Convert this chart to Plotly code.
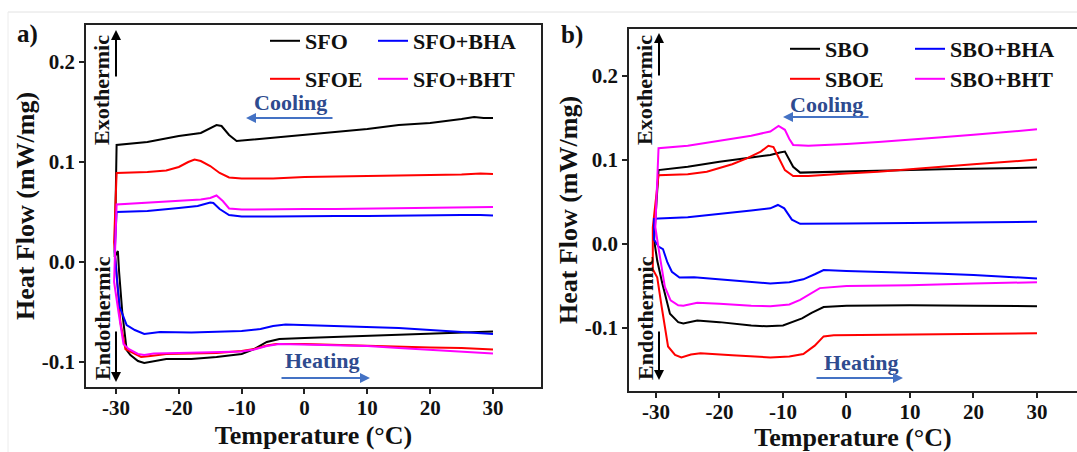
import plotly.graph_objects as go

W, H = 1077, 452

# ---------------- data ----------------
# Panel a) sunflower oil samples
sfo_cool_x = [-29.9, -25, -20, -16.5, -15, -14, -13.2, -12, -10.8, -8, 0, 5, 10, 15, 20, 25, 27, 28.5, 30]
sfo_cool_y = [0.117, 0.120, 0.126, 0.129, 0.134, 0.137, 0.136, 0.127, 0.121, 0.122, 0.127, 0.130, 0.133, 0.137, 0.139, 0.143, 0.145, 0.144, 0.144]
sfo_heat_x = [-30.2, -29.7, -29.5, -29.0, -28.3, -27.7, -26.5, -25.5, -24, -22, -18, -14, -10, -8, -6, -4, 0, 5, 10, 15, 20, 25, 30]
sfo_heat_y = [0.005, 0.011, -0.010, -0.050, -0.088, -0.093, -0.099, -0.101, -0.099, -0.097, -0.097, -0.095, -0.092, -0.087, -0.080, -0.077, -0.076, -0.075, -0.074, -0.073, -0.072, -0.071, -0.0695]

sfoe_cool_x = [-29.9, -25, -22, -20, -18.5, -17.5, -16.5, -15, -13.5, -12, -10, -5, 0, 5, 10, 15, 20, 25, 28, 30]
sfoe_cool_y = [0.089, 0.090, 0.0915, 0.095, 0.100, 0.1025, 0.101, 0.096, 0.089, 0.0845, 0.0835, 0.0835, 0.085, 0.0855, 0.0865, 0.0865, 0.087, 0.0875, 0.0885, 0.088]
sfoe_heat_x = [-30.3, -29.8, -29.3, -28.5, -27.5, -26, -24.5, -22, -18, -14, -10, -8, -6, -4.5, 0, 5, 10, 15, 20, 25, 30]
sfoe_heat_y = [0.020, -0.020, -0.060, -0.087, -0.090, -0.095, -0.094, -0.092, -0.0915, -0.091, -0.089, -0.087, -0.0835, -0.082, -0.082, -0.083, -0.084, -0.085, -0.0855, -0.086, -0.0875]

sfobha_cool_x = [-29.9, -25, -20, -17, -15, -14.5, -13.5, -12, -10, -5, 0, 5, 10, 15, 20, 25, 28, 30]
sfobha_cool_y = [0.050, 0.051, 0.054, 0.056, 0.0595, 0.059, 0.053, 0.047, 0.0455, 0.0455, 0.0455, 0.046, 0.046, 0.0465, 0.0465, 0.047, 0.047, 0.0465]
sfobha_heat_x = [-30.2, -29.8, -29.4, -28.3, -27, -25.5, -23, -18, -14, -10, -7, -5, -3, 0, 5, 10, 15, 20, 25, 30]
sfobha_heat_y = [0.010, -0.020, -0.045, -0.063, -0.068, -0.072, -0.070, -0.0705, -0.070, -0.069, -0.067, -0.064, -0.0625, -0.063, -0.064, -0.065, -0.066, -0.068, -0.070, -0.072]

sfobht_cool_x = [-29.9, -25, -20, -16.5, -15, -14, -13, -12, -10, -5, 0, 5, 10, 15, 20, 25, 30]
sfobht_cool_y = [0.0575, 0.059, 0.061, 0.0625, 0.064, 0.0665, 0.061, 0.0535, 0.0525, 0.0525, 0.053, 0.053, 0.0535, 0.054, 0.054, 0.0545, 0.055]
sfobht_heat_x = [-30.2, -30.3, -29.6, -28.8, -28.0, -26.5, -25.5, -24, -20, -15, -10, -8, -6, -4, 0, 5, 10, 15, 20, 25, 30]
sfobht_heat_y = [0.000, -0.020, -0.050, -0.082, -0.087, -0.092, -0.093, -0.0915, -0.091, -0.0905, -0.0895, -0.0875, -0.084, -0.082, -0.0825, -0.083, -0.084, -0.086, -0.088, -0.0895, -0.0915]

# Panel b) soybean oil samples
sbo_cool_x = [-29.6, -25, -20, -15, -12, -10.5, -9.7, -9, -8.4, -7.3, -5, 0, 5, 10, 15, 20, 25, 30]
sbo_cool_y = [0.088, 0.092, 0.098, 0.103, 0.106, 0.109, 0.110, 0.100, 0.092, 0.085, 0.085, 0.086, 0.087, 0.088, 0.089, 0.090, 0.0905, 0.091]
sbo_heat_x = [-30.3, -29.8, -29.0, -28.3, -27.8, -26.5, -25.7, -23.5, -20, -15, -12.6, -10, -7, -5.5, -3.6, 0, 10, 20, 30]
sbo_heat_y = [0.005, -0.020, -0.047, -0.070, -0.083, -0.093, -0.0945, -0.091, -0.093, -0.097, -0.098, -0.097, -0.0885, -0.082, -0.075, -0.0735, -0.073, -0.0735, -0.074]

sboe_cool_x = [-29.6, -25, -22, -18, -15.7, -13.5, -12.3, -11.5, -10.5, -9.7, -8.4, -6, 0, 5, 10, 15, 20, 25, 30]
sboe_cool_y = [0.082, 0.083, 0.086, 0.095, 0.102, 0.110, 0.117, 0.1155, 0.100, 0.088, 0.081, 0.081, 0.084, 0.086, 0.089, 0.092, 0.095, 0.098, 0.1005]
sboe_heat_x = [-30.5, -30.5, -29.8, -29.1, -28.1, -27, -26, -24.5, -23, -18, -12, -9, -6.8, -5, -3.6, -2, 5, 10, 20, 30]
sboe_heat_y = [0.020, -0.030, -0.040, -0.075, -0.122, -0.132, -0.135, -0.1315, -0.130, -0.1325, -0.135, -0.134, -0.131, -0.121, -0.110, -0.1085, -0.108, -0.1075, -0.1065, -0.1063]

sbobha_cool_x = [-29.6, -25, -20, -15, -12, -10.8, -9.8, -8.6, -7.3, -5, 0, 10, 20, 30]
sbobha_cool_y = [0.0305, 0.032, 0.036, 0.040, 0.0425, 0.0465, 0.0425, 0.029, 0.024, 0.024, 0.0245, 0.025, 0.0255, 0.0265]
sbobha_heat_x = [-30.3, -30.3, -29.6, -28.9, -28.2, -27.5, -26.3, -24, -20, -15, -12, -9, -6.8, -5, -3.6, 0, 5, 10, 15, 20, 25, 30]
sbobha_heat_y = [0.030, 0.005, -0.003, -0.006, -0.022, -0.033, -0.040, -0.0395, -0.042, -0.0455, -0.047, -0.0455, -0.042, -0.036, -0.031, -0.032, -0.033, -0.0345, -0.0355, -0.037, -0.039, -0.041]

sbobht_cool_x = [-29.6, -25, -20, -15, -12, -10.7, -9.7, -9, -8.4, -6, 0, 5, 10, 15, 20, 25, 30]
sbobht_cool_y = [0.114, 0.117, 0.123, 0.129, 0.134, 0.1405, 0.136, 0.125, 0.118, 0.117, 0.119, 0.1215, 0.124, 0.127, 0.130, 0.133, 0.1365]
sbobht_heat_x = [-30.1, -29.6, -29.0, -28.6, -27.7, -26.5, -25.7, -23.5, -20, -15, -12, -9, -7.3, -5.5, -4.2, 0, 10, 20, 30]
sbobht_heat_y = [0.020, -0.005, -0.035, -0.051, -0.067, -0.073, -0.0735, -0.070, -0.071, -0.0735, -0.074, -0.072, -0.0665, -0.058, -0.0525, -0.050, -0.049, -0.047, -0.0455]

names_a = ["SFO", "SFOE", "SFO+BHA", "SFO+BHT"]
names_b = ["SBO", "SBOE", "SBO+BHA", "SBO+BHT"]
colors = ["#000000", "#ff0000", "#0000ff", "#ff00ff"]

x_ticks = [-30, -20, -10, 0, 10, 20, 30]
x_ticktext = ["-30", "-20", "-10", "0", "10", "20", "30"]
y_ticks = [-0.1, 0.0, 0.1, 0.2]
y_ticktext = ["-0.1", "0.0", "0.1", "0.2"]

curves_a = [
    (sfo_cool_x, sfo_cool_y, sfo_heat_x, sfo_heat_y),
    (sfoe_cool_x, sfoe_cool_y, sfoe_heat_x, sfoe_heat_y),
    (sfobha_cool_x, sfobha_cool_y, sfobha_heat_x, sfobha_heat_y),
    (sfobht_cool_x, sfobht_cool_y, sfobht_heat_x, sfobht_heat_y),
]
curves_b = [
    (sbo_cool_x, sbo_cool_y, sbo_heat_x, sbo_heat_y),
    (sboe_cool_x, sboe_cool_y, sboe_heat_x, sboe_heat_y),
    (sbobha_cool_x, sbobha_cool_y, sbobha_heat_x, sbobha_heat_y),
    (sbobht_cool_x, sbobht_cool_y, sbobht_heat_x, sbobht_heat_y),
]

# ---------------- layout helpers ----------------
def px(x):
    return x / W

def py(y):
    return 1 - y / H

FONT = "Liberation Serif"
AXC = "#222222"

fig = go.Figure()

# legend item positions (pixel position where legend box starts, row centre)
leg_pos_a = [(265, 41), (265, 79), (373, 41), (373, 79)]
leg_pos_b = [(785, 49), (785, 79), (910, 49), (910, 79)]

legend_layout = {}
k = 0
for curves, names, xa, ya, lpos in [(curves_a, names_a, "x", "y", leg_pos_a),
                                    (curves_b, names_b, "x2", "y2", leg_pos_b)]:
    for (cx, cy, hx, hy), name, col, (lx, ly) in zip(curves, names, colors, lpos):
        lname = "legend" if k == 0 else f"legend{k+1}"
        xs = list(reversed(cx)) + list(hx)
        ys = list(reversed(cy)) + list(hy)
        fig.add_trace(go.Scatter(x=xs, y=ys, mode="lines", name=name,
                                 line=dict(color=col, width=2),
                                 xaxis=xa, yaxis=ya, legend=lname))
        legend_layout[lname] = dict(x=px(lx), y=py(ly), xanchor="left", yanchor="middle",
                                    bgcolor="rgba(0,0,0,0)", borderwidth=0,
                                    font=dict(family=FONT, size=22, color="#111", weight="bold"))
        k += 1

axis_common = dict(showline=True, linecolor=AXC, linewidth=1.5, ticks="outside",
                   ticklen=5, tickwidth=1.5, tickcolor=AXC, showgrid=False, zeroline=False,
                   tickfont=dict(family=FONT, size=21, color="#111", weight="bold"))

xtitle_font = dict(family=FONT, size=26, color="#111", weight="bold")
ytitle_font = dict(family=FONT, size=26, color="#111", weight="bold")

fig.update_layout(
    width=W, height=H, margin=dict(l=0, r=0, t=0, b=0),
    paper_bgcolor="white", plot_bgcolor="white", showlegend=True,
    xaxis=dict(domain=[px(86), px(541)], range=[-34.77, 37.64], anchor="y",
               tickvals=x_ticks, ticktext=x_ticktext, mirror=True, ticklabelstandoff=-4,
               title=dict(text="Temperature (°C)", standoff=7, font=xtitle_font),
               **axis_common),
    yaxis=dict(domain=[py(387), py(25)], range=[-0.125, 0.237], anchor="x",
               tickvals=y_ticks, ticktext=y_ticktext, mirror=True,
               title=dict(text="Heat Flow (mW/mg)", standoff=0, font=ytitle_font),
               **axis_common),
    xaxis2=dict(domain=[px(629), 1.0], range=[-34.25, 36.3], anchor="y2",
                tickvals=x_ticks, ticktext=x_ticktext, mirror=True, ticklabelstandoff=-4,
                title=dict(text="Temperature (°C)", standoff=7, font=xtitle_font),
                **axis_common),
    yaxis2=dict(domain=[py(391), py(29)], range=[-0.175, 0.256], anchor="x2",
                tickvals=y_ticks, ticktext=y_ticktext,
                title=dict(text="Heat Flow (mW/mg)", standoff=0, font=ytitle_font),
                **axis_common),
    **legend_layout,
)

ann = []
def text_ann(x, y, text, size, color="#111", angle=0):
    ann.append(dict(xref="paper", yref="paper", x=px(x), y=py(y), text=text,
                    showarrow=False, textangle=angle, xanchor="center", yanchor="middle",
                    font=dict(family=FONT, size=size, color=color, weight="bold")))

def arrow_ann(hx, hy, tx, ty, color):
    ann.append(dict(xref="paper", yref="paper", x=px(hx), y=py(hy), text="",
                    showarrow=True, ax=tx - hx, ay=ty - hy, arrowhead=2, arrowsize=1,
                    arrowwidth=2, arrowcolor=color, standoff=0, startstandoff=0))

BLUE_T = "#2e4b8f"
BLUE_A = "#4472c4"
# panel labels
text_ann(28, 34, "a)", 25)
text_ann(572, 35, "b)", 25)
# exo / endo
for bx in (102, 645):
    text_ann(bx, 90, "Exothermic", 22, angle=-90)
    text_ann(bx, 318, "Endothermic", 22, angle=-90)
arrow_ann(116, 30, 116, 78, "#000")
arrow_ann(116, 382, 116, 330, "#000")
arrow_ann(659, 33, 659, 77, "#000")
arrow_ann(659, 380, 659, 330, "#000")
# cooling / heating
text_ann(290, 103, "Cooling", 22, BLUE_T)
arrow_ann(246, 118, 334, 118, BLUE_A)
text_ann(322, 360, "Heating", 22, BLUE_T)
arrow_ann(370, 378, 280, 378, BLUE_A)
text_ann(826, 104, "Cooling", 22, BLUE_T)
arrow_ann(783, 117, 870, 117, BLUE_A)
text_ann(861, 362, "Heating", 22, BLUE_T)
arrow_ann(903, 378, 815, 378, BLUE_A)

fig.update_layout(annotations=ann, shapes=[
    dict(type="line", xref="paper", yref="paper", x0=px(8), x1=1, y0=py(12), y1=py(12),
         line=dict(color="#e2e2e2", width=1)),
    dict(type="line", xref="paper", yref="paper", x0=px(8), x1=px(8), y0=py(12), y1=0,
         line=dict(color="#ececec", width=1)),
])

fig.write_html("out.html")
